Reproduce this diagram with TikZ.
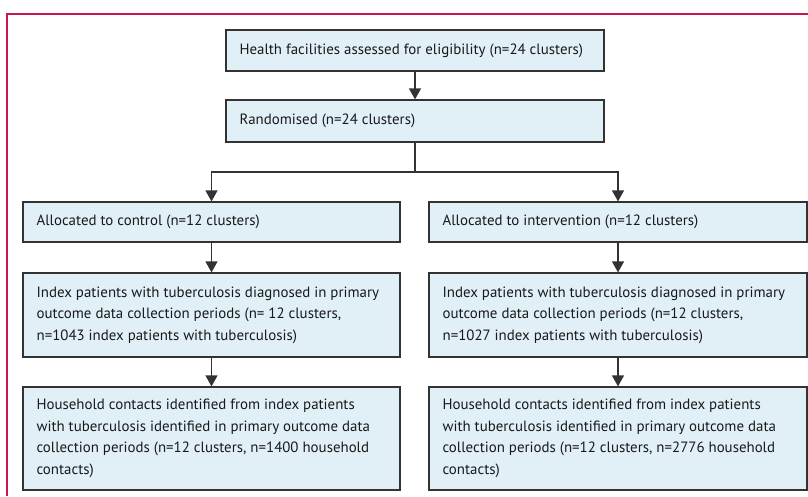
\documentclass[tikz,border=0pt]{standalone}
\usepackage{fontspec}
\setmainfont{PT Sans}
\usetikzlibrary{arrows.meta}
\definecolor{boxfill}{HTML}{E1F0F7}
\definecolor{boxline}{HTML}{333333}
\definecolor{frame}{HTML}{C8174A}
\tikzset{
  fbox/.style={draw=boxline, line width=1.2pt, fill=boxfill,
    anchor=center, inner sep=0pt},
  flabel/.style={text=black!90, align=left, anchor=west, inner sep=0pt,
    font=\fontsize{14.9}{21.5}\selectfont},
  conn/.style={draw=boxline, line width=1.2pt},
  arr/.style={conn, -{Triangle[width=12pt,length=11pt]}},
}
\newcommand{\fbx}[6]{% name, x1, y1, x2, y2, text
  \node[fbox, minimum width=#4-#2, minimum height=#5-#3] (#1) at ({(#2+#4)/2},{(#3+#5)/2}) {};
  \node[flabel] (#1t) at ([xshift=14pt]#1.west) {#6};}
\begin{document}
\begin{tikzpicture}[x=1pt,y=-1pt]
\useasboundingbox (0,0) rectangle (808,496);
\draw[frame, line width=1.2pt] (7,496) -- (7,14) -- (808,14);
\fbx{b1}{226}{30}{604}{71}{Health facilities assessed for eligibility (n=24 clusters)}
\fbx{b2}{226}{100}{604}{142}{Randomised (n=24 clusters)}
\fbx{c1}{23}{202}{400}{242}{Allocated to control (n=12 clusters)}
\fbx{i1}{429}{202}{807}{242}{Allocated to intervention (n=12 clusters)}
\fbx{c2}{23}{273}{400}{357}{Index patients with tuberculosis diagnosed in primary\\outcome data collection periods (n= 12 clusters,\\n=1043 index patients with tuberculosis)}
\fbx{i2}{429}{273}{807}{357}{Index patients with tuberculosis diagnosed in primary\\outcome data collection periods (n=12 clusters,\\n=1027 index patients with tuberculosis)}
\fbx{c3}{23}{387}{400}{490}{Household contacts identified from index patients\\with tuberculosis identified in primary outcome data\\collection periods (n=12 clusters, n=1400 household\\contacts)}
\fbx{i3}{429}{387}{807}{490}{Household contacts identified from index patients\\with tuberculosis identified in primary outcome data\\collection periods (n=12 clusters, n=2776 household\\contacts)}
\coordinate (split) at (b2.south |- 0,172);
\draw[arr] (b1) -- (b2);
\draw[conn] (b2.south) -- (split);
\draw[arr] (split) -| (c1.north);
\draw[arr] (split) -| (i1.north);
\draw[arr] (c1) -- (c2);
\draw[arr] (i1) -- (i2);
\draw[arr] (c2) -- (c3);
\draw[arr] (i2) -- (i3);
\end{tikzpicture}
\end{document}
